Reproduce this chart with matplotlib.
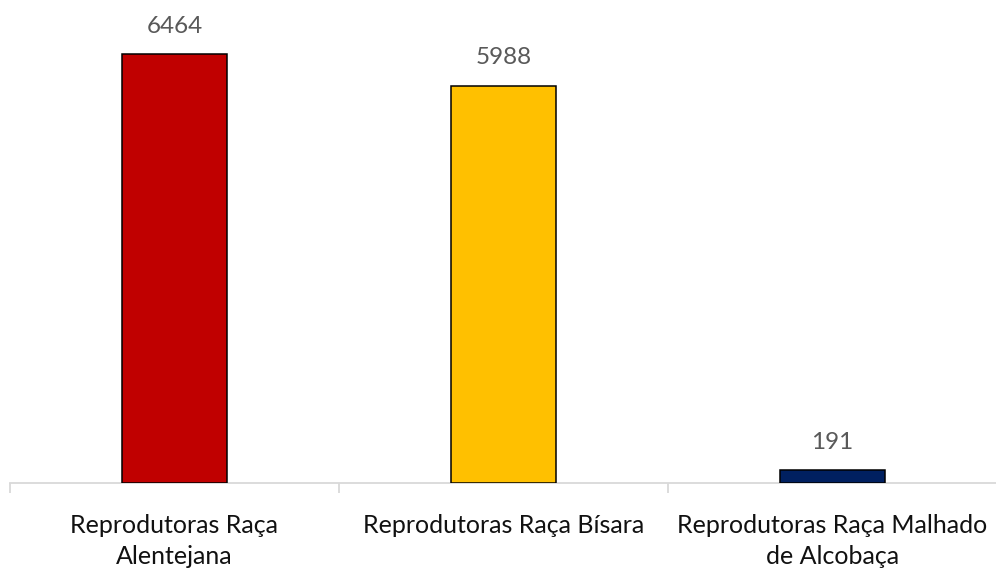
import matplotlib
matplotlib.use("Agg")
import matplotlib.pyplot as plt

categories = ["Reprodutoras Raça\nAlentejana", "Reprodutoras Raça Bísara", "Reprodutoras Raça Malhado\nde Alcobaça"]
values = [6464, 5988, 191]
colors = ["#C00000", "#FFC000", "#002060"]

plt.rcParams['font.family'] = ['Lato', 'DejaVu Sans']

fig = plt.figure(figsize=(9.96, 5.69), dpi=100)
ax = fig.add_axes([10/996, 1-483/569, 987/996, (483-18.4)/569])

x = list(range(len(categories)))
bars = ax.bar(x, values, width=0.32, color=colors, edgecolor="black", linewidth=1.1, zorder=3)

for xi, v in zip(x, values):
    ax.annotate(str(v), (xi, v), xytext=(0, 12.5), textcoords="offset points",
                ha="center", va="bottom", fontsize=17.5, color="#595959")

ax.set_xlim(-0.5, 2.5)
ax.set_ylim(0, 7000)
for s in ["top", "right", "left"]:
    ax.spines[s].set_visible(False)
ax.spines["bottom"].set_color("#D9D9D9")
ax.spines["bottom"].set_linewidth(1.3)
ax.set_yticks([])
ax.set_xticks(x)
ax.set_xticklabels(categories, fontsize=18, color="#111111", linespacing=1.45)
ax.tick_params(axis="x", which="major", length=0, pad=22)
ax.set_xticks([-0.5, 0.5, 1.5, 2.5], minor=True)
ax.tick_params(axis="x", which="minor", length=7, width=1.3, color="#D9D9D9")

fig.savefig("out.png", dpi=100)
